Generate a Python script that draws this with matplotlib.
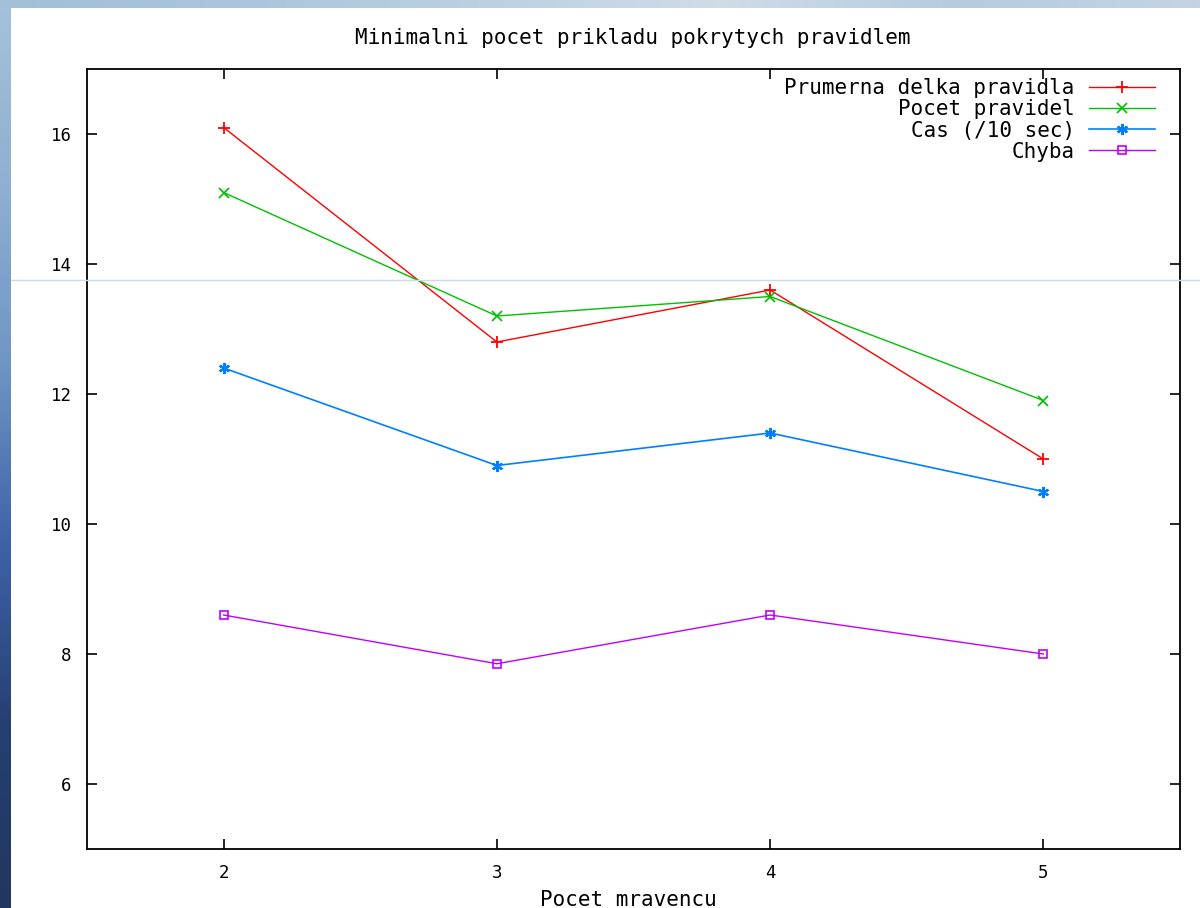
import numpy as np
import matplotlib.pyplot as plt
from matplotlib.colors import LinearSegmentedColormap
from matplotlib.lines import Line2D

# --- data ---
ants = [2, 3, 4, 5]
avg_rule_len = [16.1, 12.8, 13.6, 11.0]
rule_count = [15.1, 13.2, 13.5, 11.9]
time_10s = [12.4, 10.9, 11.4, 10.5]
error = [8.6, 7.85, 8.6, 8.0]

labels = ["Prumerna delka pravidla", "Pocet pravidel", "Cas (/10 sec)", "Chyba"]
y_ticks = [6, 8, 10, 12, 14, 16]

W, H = 1200, 908
mono = "DejaVu Sans Mono"


def main():
    fig = plt.figure(figsize=(W / 100, H / 100), dpi=100, facecolor="white")

    # --- slide background strips (left and top) ---
    left_cmap = LinearSegmentedColormap.from_list(
        "left", ["#a6c1da", "#8fb0d2", "#6f95c4", "#3d63a6", "#263f72", "#22375f"])
    bg_left = fig.add_axes([0, 0, 11 / W, 1])
    bg_left.imshow(np.linspace(0, 1, 256).reshape(-1, 1), aspect="auto", cmap=left_cmap)
    bg_left.set_axis_off()

    top_cmap = LinearSegmentedColormap.from_list(
        "top", ["#a3bfd8", "#aac5dc", "#bcd0e2", "#cfdce8", "#b6cbe0", "#c4d4e4"])
    bg_top = fig.add_axes([0, 1 - 8 / H, 1, 8 / H])
    bg_top.imshow(np.linspace(0, 1, 256).reshape(1, -1), aspect="auto", cmap=top_cmap)
    bg_top.set_axis_off()

    # faint horizontal slide artefact
    fig.add_artist(Line2D([11 / W, 1], [1 - 280 / H] * 2, color="#c9dbe8",
                          lw=1.0, transform=fig.transFigure, zorder=10))

    # --- main plot ---
    ax = fig.add_axes([87 / W, 1 - 849 / H, (1180 - 87) / W, (849 - 69) / H])
    ax.set_facecolor("white")

    ax.plot(ants, avg_rule_len, color="#ff0000", lw=1.0, marker="+", ms=8, mew=1.3,
            label=labels[0])
    ax.plot(ants, rule_count, color="#00c000", lw=1.0, marker="x", ms=6.5, mew=1.2,
            label=labels[1])
    ax.plot(ants, time_10s, color="#0080ff", lw=1.2, marker=(6, 2, 0), ms=8, mew=1.6,
            label=labels[2])
    ax.plot(ants, error, color="#c000ff", lw=1.0, marker="s", ms=5.5, mew=1.2,
            mfc="none", label=labels[3])

    ax.set_xlim(1.5, 5.5)
    ax.set_ylim(5, 17)
    ax.set_xticks(ants)
    ax.set_yticks(y_ticks)
    ax.tick_params(direction="in", length=7, width=1.2, top=True, right=True,
                   labelsize=12.5, pad=11)
    for lab in ax.get_xticklabels() + ax.get_yticklabels():
        lab.set_family(mono)
    for sp in ax.spines.values():
        sp.set_linewidth(1.3)

    leg = ax.legend(loc="upper right", bbox_to_anchor=(1155 / W, 1 - 78 / H),
                    bbox_transform=fig.transFigure, markerfirst=False, frameon=False,
                    borderpad=0, borderaxespad=0, handlelength=3.15, handletextpad=0.7,
                    labelspacing=0.06, prop={"family": mono, "size": 15})
    for t in leg.get_texts():
        t.set_ha("right")

    fig.text(633 / W, 1 - 38 / H, "Minimalni pocet prikladu pokrytych pravidlem",
             ha="center", va="center", family=mono, fontsize=15)
    fig.text(628 / W, 1 - 900 / H, "Pocet mravencu", ha="center", va="center",
             family=mono, fontsize=15)

    fig.savefig("out.png", dpi=100, facecolor="white")


if __name__ == "__main__":
    main()
